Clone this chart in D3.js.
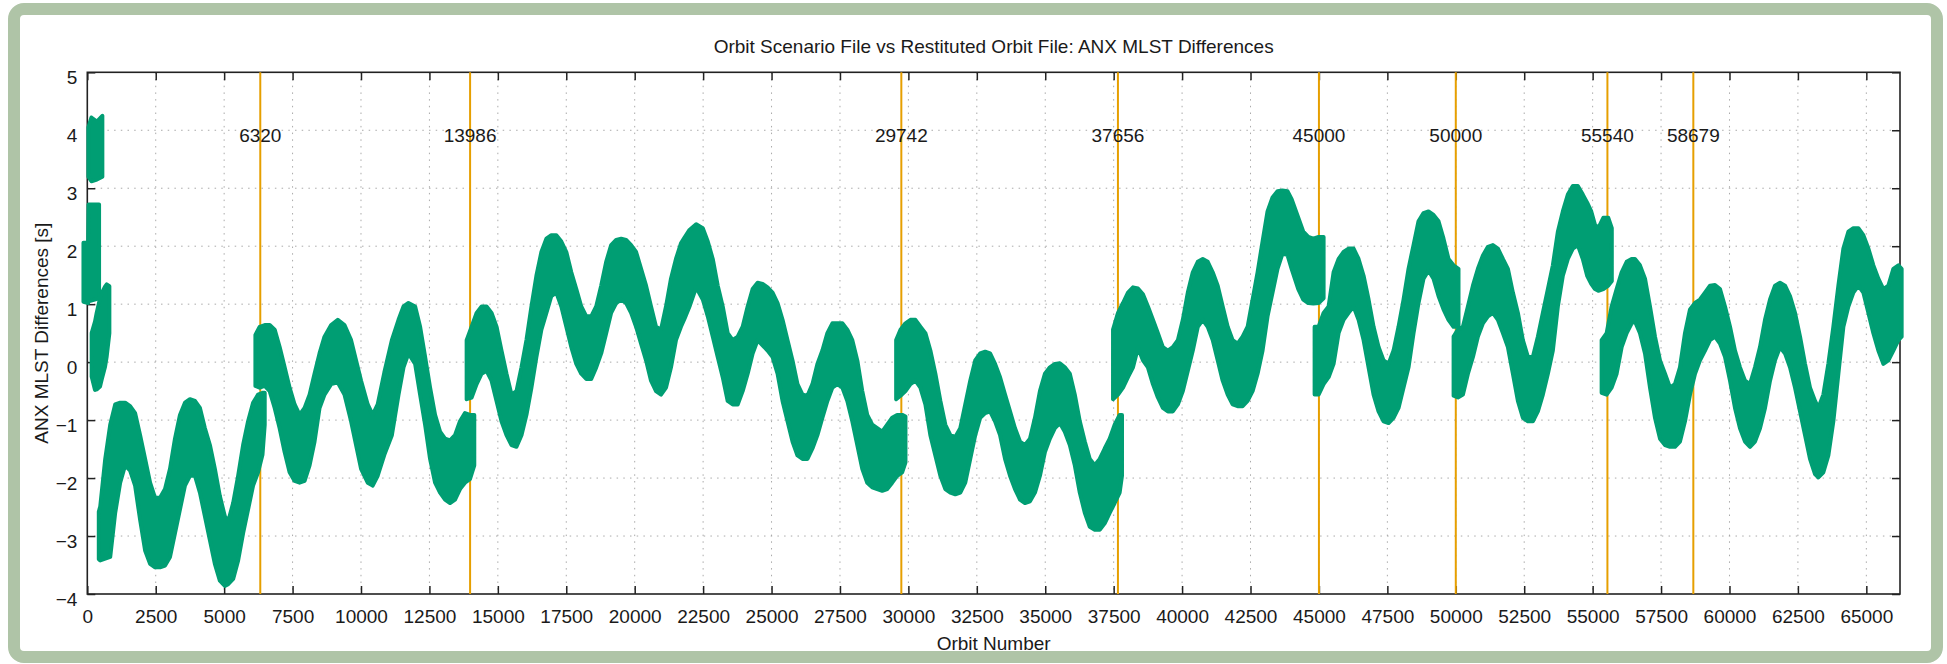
<!DOCTYPE html>
<html><head><meta charset="utf-8">
<script src="https://cdn.jsdelivr.net/npm/d3@7"></script>
<style>
html,body{margin:0;padding:0;background:#fff;}
svg{display:block;}
text{font-family:"Liberation Sans",Arial,Helvetica,sans-serif;fill:#1a1a1a;}
</style>
</head><body>
<svg id="chart" width="1947" height="664"></svg>
<script>
// ---------- data ----------
const chartTitle = "Orbit Scenario File vs Restituted Orbit File: ANX MLST Differences";
const xLabel = "Orbit Number";
const yLabel = "ANX MLST Differences [s]";
const xTicks = [0,2500,5000,7500,10000,12500,15000,17500,20000,22500,25000,27500,30000,32500,35000,37500,40000,42500,45000,47500,50000,52500,55000,57500,60000,62500,65000];
const yTicks = [-4,-3,-2,-1,0,1,2,3,4,5];
const xDomain = [0, 66230];
const yDomain = [-4, 5];
const markerOrbits = [6320,13986,29742,37656,45000,50000,55540,58679];
const markerLabelLevel = 4;

// Each segment: [orbit, lower edge of band, upper edge of band] (seconds)
const segA1 = [[40,3.20,4.05],[150,3.12,4.22],[350,3.15,4.15],[550,3.20,4.25]];
const segA2 = [[-140,1.04,2.06],[30,1.02,2.06],[45,1.05,2.72],[430,1.10,2.72]];
const segA3 = [[160,-0.25,0.50],[282,-0.48,0.70],[343,-0.47,0.85],[465,-0.42,1.10],[526,-0.30,1.19],[648,-0.08,1.30],[709,0.10,1.34],[806,0.50,1.31]];
const segB = [[420,-3.40,-2.58],[473,-3.42,-2.49],[655,-3.39,-1.67],[837,-3.36,-1.08],[1019,-2.60,-0.73],[1201,-2.08,-0.70],[1383,-1.78,-0.70],[1565,-1.87,-0.76],[1747,-2.13,-0.88],[1929,-2.72,-1.26],[2112,-3.25,-1.67],[2294,-3.48,-2.08],[2476,-3.54,-2.34],[2658,-3.54,-2.34],[2840,-3.51,-2.19],[3022,-3.36,-1.84],[3204,-2.95,-1.32],[3386,-2.54,-0.91],[3568,-2.13,-0.70],[3750,-1.96,-0.64],[3933,-1.96,-0.67],[4115,-2.25,-0.79],[4297,-2.66,-1.14],[4479,-3.07,-1.43],[4661,-3.48,-1.84],[4843,-3.77,-2.31],[5025,-3.86,-2.66],[5147,-3.83,-2.75],[5329,-3.74,-2.43],[5511,-3.42,-1.96],[5693,-2.95,-1.43],[5875,-2.54,-1.02],[6057,-2.13,-0.70],[6239,-1.90,-0.56],[6400,-1.60,-0.53],[6482,-1.08,-0.53]];
const segC = [[6142,-0.41,0.47],[6300,-0.44,0.61],[6482,-0.41,0.64],[6664,-0.50,0.64],[6846,-0.79,0.56],[7028,-1.14,0.26],[7210,-1.55,-0.09],[7392,-1.90,-0.44],[7575,-2.05,-0.73],[7757,-2.08,-0.91],[7939,-2.05,-0.79],[8121,-1.78,-0.56],[8303,-1.37,-0.20],[8485,-0.79,0.15],[8667,-0.56,0.44],[8910,-0.38,0.64],[9153,-0.35,0.73],[9396,-0.56,0.64],[9638,-1.02,0.38],[9820,-1.43,0.03],[10003,-1.84,-0.32],[10245,-2.08,-0.73],[10427,-2.13,-0.91],[10610,-1.96,-0.73],[10852,-1.60,-0.18],[11128,-1.26,0.38],[11371,-0.56,0.73],[11553,-0.09,0.96],[11735,0.15,1.02],[11978,-0.03,0.96],[12160,-0.56,0.61],[12342,-1.08,0.09],[12524,-1.67,-0.44],[12706,-2.08,-0.91],[12888,-2.25,-1.20],[13071,-2.37,-1.32],[13253,-2.43,-1.35],[13435,-2.37,-1.26],[13617,-2.19,-1.02],[13799,-2.08,-0.88],[13981,-2.02,-0.91],[14139,-1.78,-0.91]];
const segD = [[13860,-0.64,0.38],[14042,-0.61,0.61],[14224,-0.38,0.85],[14406,-0.20,0.96],[14588,-0.15,0.96],[14770,-0.32,0.85],[14952,-0.67,0.61],[15134,-1.02,0.20],[15316,-1.26,-0.20],[15499,-1.43,-0.56],[15681,-1.46,-0.50],[15863,-1.26,-0.09],[16045,-0.91,0.38],[16227,-0.44,0.96],[16409,0.09,1.49],[16591,0.56,1.90],[16773,0.85,2.13],[16955,1.14,2.19],[17137,1.20,2.19],[17320,0.96,2.08],[17502,0.61,1.90],[17684,0.26,1.55],[17866,-0.03,1.26],[18048,-0.20,0.96],[18230,-0.29,0.79],[18412,-0.29,0.79],[18594,-0.09,0.96],[18776,0.15,1.32],[18958,0.50,1.73],[19140,0.85,2.02],[19323,1.02,2.11],[19505,1.08,2.13],[19687,1.02,2.11],[19869,0.85,2.02],[20051,0.61,1.90],[20233,0.32,1.61],[20415,0.03,1.32],[20597,-0.32,0.96],[20779,-0.50,0.61],[20962,-0.56,0.56],[21144,-0.44,0.96],[21326,-0.09,1.44],[21508,0.38,1.78],[21690,0.61,2.05],[21820,0.75,2.15],[22002,0.96,2.28],[22245,1.29,2.38],[22488,1.08,2.31],[22670,0.79,2.08],[22852,0.44,1.78],[23034,0.09,1.32],[23216,-0.26,0.96],[23398,-0.67,0.50],[23580,-0.73,0.38],[23763,-0.73,0.44],[23945,-0.50,0.61],[24127,-0.20,0.96],[24309,0.15,1.26],[24491,0.38,1.37],[24673,0.29,1.35],[24855,0.20,1.29],[25037,0.09,1.20],[25220,-0.20,1.02],[25402,-0.67,0.73],[25584,-1.02,0.38],[25766,-1.37,0.03],[25948,-1.61,-0.38],[26130,-1.67,-0.56],[26312,-1.67,-0.58],[26494,-1.49,-0.38],[26676,-1.26,-0.03],[26858,-0.96,0.20],[27040,-0.67,0.50],[27223,-0.44,0.67],[27405,-0.38,0.67],[27587,-0.44,0.67],[27769,-0.67,0.56],[27951,-1.02,0.38],[28133,-1.43,0.03],[28315,-1.84,-0.50],[28497,-2.08,-0.91],[28679,-2.16,-1.08],[28861,-2.19,-1.14],[29043,-2.22,-1.20],[29226,-2.19,-1.08],[29408,-2.08,-0.96],[29590,-1.96,-0.91],[29772,-1.90,-0.91],[29893,-1.73,-0.94]];
const segE = [[29553,-0.64,0.38],[29711,-0.58,0.56],[29893,-0.50,0.67],[30075,-0.38,0.73],[30257,-0.32,0.73],[30439,-0.44,0.61],[30621,-0.73,0.50],[30803,-1.26,0.20],[30985,-1.61,-0.20],[31168,-1.96,-0.67],[31350,-2.19,-1.08],[31532,-2.25,-1.26],[31714,-2.28,-1.29],[31896,-2.25,-1.14],[32078,-2.08,-0.73],[32260,-1.67,-0.32],[32442,-1.26,0.03],[32624,-0.96,0.15],[32806,-0.88,0.18],[32985,-0.85,0.15],[33167,-1.02,-0.03],[33349,-1.26,-0.26],[33531,-1.67,-0.56],[33713,-1.96,-0.85],[33895,-2.19,-1.14],[34077,-2.37,-1.37],[34259,-2.43,-1.43],[34442,-2.40,-1.32],[34624,-2.25,-0.96],[34806,-1.96,-0.50],[34988,-1.55,-0.20],[35170,-1.32,-0.09],[35352,-1.14,-0.03],[35534,-1.05,-0.02],[35716,-1.20,-0.09],[35898,-1.43,-0.20],[36080,-1.78,-0.56],[36262,-2.25,-1.02],[36445,-2.60,-1.37],[36627,-2.84,-1.67],[36809,-2.89,-1.78],[36991,-2.89,-1.67],[37173,-2.78,-1.49],[37355,-2.60,-1.32],[37537,-2.43,-1.08],[37719,-2.25,-0.91],[37804,-1.96,-0.91]];
const segF = [[37477,-0.64,0.56],[37659,-0.56,0.85],[37841,-0.44,1.02],[38023,-0.26,1.20],[38206,-0.09,1.29],[38388,0.25,1.27],[38570,0.03,1.17],[38752,-0.09,0.96],[38934,-0.38,0.73],[39116,-0.61,0.50],[39298,-0.79,0.26],[39480,-0.85,0.20],[39662,-0.85,0.26],[39845,-0.73,0.38],[40027,-0.50,0.73],[40209,-0.15,1.20],[40391,0.20,1.55],[40573,0.61,1.73],[40755,0.73,1.78],[40937,0.61,1.73],[41119,0.38,1.55],[41301,0.03,1.32],[41483,-0.32,0.96],[41665,-0.56,0.61],[41847,-0.73,0.38],[42029,-0.76,0.32],[42212,-0.76,0.44],[42394,-0.67,0.61],[42576,-0.50,1.08],[42758,-0.20,1.55],[42940,0.20,2.08],[43122,0.79,2.60],[43304,1.20,2.84],[43486,1.61,2.95],[43668,1.87,2.96],[43850,1.85,2.95],[44002,1.61,2.81],[44245,1.26,2.49],[44428,1.08,2.25],[44610,1.02,2.16],[44795,1.01,2.13],[44988,1.02,2.16],[45170,1.10,2.16]];
const segG = [[44842,-0.56,0.61],[44988,-0.56,0.61],[45170,-0.38,0.85],[45353,-0.26,0.96],[45535,-0.03,1.55],[45718,0.50,1.78],[45900,0.73,1.90],[46083,0.85,1.96],[46266,0.96,1.96],[46448,0.73,1.78],[46631,0.38,1.49],[46813,-0.09,1.08],[46996,-0.56,0.61],[47178,-0.85,0.26],[47361,-1.02,0.03],[47543,-1.05,-0.03],[47726,-0.96,0.20],[47908,-0.79,0.61],[48091,-0.44,1.08],[48273,-0.09,1.61],[48456,0.50,2.02],[48638,1.02,2.43],[48821,1.44,2.57],[49003,1.58,2.60],[49186,1.44,2.54],[49369,1.14,2.43],[49551,0.91,2.13],[49734,0.73,1.78],[49916,0.61,1.67],[50099,0.61,1.61]];
const segH = [[49920,-0.58,0.44],[50078,-0.61,0.56],[50261,-0.56,0.61],[50443,-0.20,0.96],[50626,0.09,1.32],[50808,0.44,1.61],[50991,0.67,1.84],[51174,0.79,1.99],[51356,0.85,2.02],[51539,0.73,1.96],[51721,0.50,1.78],[51904,0.26,1.61],[52086,-0.20,1.20],[52269,-0.67,0.85],[52451,-0.96,0.38],[52634,-1.02,0.09],[52816,-1.02,0.09],[52999,-0.85,0.44],[53181,-0.56,0.85],[53364,-0.20,1.26],[53546,0.20,1.67],[53729,0.96,2.25],[53911,1.49,2.60],[54094,1.78,2.89],[54276,1.96,3.04],[54459,2.02,3.04],[54641,1.78,2.89],[54800,1.49,2.75],[54950,1.35,2.60],[55085,1.26,2.37],[55207,1.23,2.31],[55390,1.26,2.49],[55572,1.32,2.49],[55700,1.40,2.31]];
const segI = [[55329,-0.53,0.38],[55512,-0.56,0.50],[55694,-0.44,0.96],[55877,-0.20,1.26],[56060,0.26,1.55],[56243,0.50,1.73],[56425,0.67,1.78],[56547,0.70,1.78],[56730,0.50,1.67],[56913,0.15,1.44],[57096,-0.44,0.96],[57278,-0.96,0.44],[57461,-1.32,0.03],[57644,-1.43,-0.20],[57827,-1.46,-0.44],[58008,-1.46,-0.38],[58191,-1.37,-0.09],[58374,-1.02,0.50],[58557,-0.56,0.91],[58740,-0.20,1.02],[58922,0.03,1.08],[59105,0.20,1.20],[59288,0.38,1.32],[59470,0.44,1.33],[59653,0.32,1.26],[59836,0.09,0.96],[60019,-0.32,0.61],[60201,-0.79,0.20],[60384,-1.14,-0.09],[60567,-1.37,-0.32],[60750,-1.46,-0.38],[60932,-1.37,-0.09],[61115,-1.14,0.26],[61298,-0.79,0.73],[61481,-0.32,1.08],[61663,0.03,1.32],[61846,0.26,1.37],[62029,0.15,1.32],[62211,-0.09,1.14],[62394,-0.44,0.85],[62577,-0.85,0.44],[62760,-1.26,-0.03],[62942,-1.67,-0.44],[63125,-1.93,-0.67],[63247,-1.99,-0.79],[63430,-1.90,-0.56],[63612,-1.61,-0.03],[63795,-1.02,0.61],[63978,-0.20,1.32],[64161,0.61,1.96],[64343,0.96,2.25],[64526,1.20,2.31],[64709,1.32,2.31],[64891,1.20,2.19],[65074,0.85,1.96],[65257,0.50,1.67],[65439,0.20,1.44],[65622,-0.03,1.26],[65805,0.03,1.32],[65987,0.20,1.61],[66170,0.38,1.67],[66290,0.44,1.61]];
const segments = [segA1, segA2, segA3, segB, segC, segD, segE, segF, segG, segH, segI];

// ---------- layout ----------
const W = 1947, H = 664;
const plot = {left: 87.3, right: 1900, top: 72.3, bottom: 594};
const green = "#009e73", orange = "#e69f00";

const svg = d3.select("#chart");
// outer rounded frame
svg.append("rect").attr("x", 14).attr("y", 9).attr("width", 1923).attr("height", 648)
  .attr("rx", 10).attr("fill", "#fff").attr("stroke", "#afc4a7").attr("stroke-width", 12);

const x = d3.scaleLinear().domain(xDomain).range([plot.left, plot.right]);
const y = d3.scaleLinear().domain(yDomain).range([plot.bottom, plot.top]);

// grid
const grid = svg.append("g").attr("stroke", "#aaaaaa").attr("stroke-width", 1).attr("stroke-dasharray", "1.5,5.2");
grid.selectAll(".gx").data(xTicks.filter(t => t > xDomain[0])).join("line")
  .attr("x1", d => x(d)).attr("x2", d => x(d)).attr("y1", plot.top).attr("y2", plot.bottom);
grid.selectAll(".gy").data(yTicks.filter(t => t > yDomain[0] && t < yDomain[1])).join("line")
  .attr("x1", plot.left).attr("x2", plot.right).attr("y1", d => y(d)).attr("y2", d => y(d));

// axes (ticks inside, mirrored)
const fs = 19;
const axB = svg.append("g").attr("transform", `translate(0,${plot.bottom})`)
  .call(d3.axisBottom(x).tickValues(xTicks).tickFormat(d3.format("d")).tickSizeInner(-8).tickSizeOuter(0).tickPadding(0));
axB.selectAll("text").attr("y", 29).attr("dy", 0).style("font-size", fs + "px");
const axT = svg.append("g").attr("transform", `translate(0,${plot.top})`)
  .call(d3.axisTop(x).tickValues(xTicks).tickFormat("").tickSizeInner(-8).tickSizeOuter(0));
const axL = svg.append("g").attr("transform", `translate(${plot.left},0)`)
  .call(d3.axisLeft(y).tickValues(yTicks).tickFormat(d3.format("d")).tickSizeInner(-8).tickSizeOuter(0).tickPadding(0));
axL.selectAll("text").attr("x", -10).attr("dy", "0.58em").style("font-size", fs + "px");
const axR = svg.append("g").attr("transform", `translate(${plot.right},0)`)
  .call(d3.axisRight(y).tickValues(yTicks).tickFormat("").tickSizeInner(-8).tickSizeOuter(0));
[axB, axT, axL, axR].forEach(a => {
  a.select(".domain").remove();
  a.selectAll(".tick line").attr("stroke", "#222").attr("stroke-width", 1.5);
  a.selectAll("text").attr("fill", "#1a1a1a").attr("font-family", null);
});
// border
svg.append("rect").attr("x", plot.left).attr("y", plot.top)
  .attr("width", plot.right - plot.left).attr("height", plot.bottom - plot.top)
  .attr("fill", "none").attr("stroke", "#222").attr("stroke-width", 1.6);

// vertical marker lines
svg.append("g").selectAll("line").data(markerOrbits).join("line")
  .attr("x1", d => x(d)).attr("x2", d => x(d)).attr("y1", plot.top).attr("y2", plot.bottom)
  .attr("stroke", orange).attr("stroke-width", 2);

// data band
const area = d3.area().x(d => x(d[0])).y0(d => y(d[1])).y1(d => y(d[2])).curve(d3.curveLinear);
svg.append("g").selectAll("path").data(segments).join("path")
  .attr("d", area).attr("fill", green).attr("stroke", green)
  .attr("stroke-width", 4).attr("stroke-linejoin", "round");

// marker labels
svg.append("g").selectAll("text").data(markerOrbits).join("text")
  .attr("x", d => x(d)).attr("y", y(markerLabelLevel) + 11.5)
  .attr("text-anchor", "middle").style("font-size", fs + "px").text(d => d);

// titles
svg.append("text").attr("x", (plot.left + plot.right) / 2).attr("y", 53)
  .attr("text-anchor", "middle").style("font-size", "19px").text(chartTitle);
svg.append("text").attr("x", (plot.left + plot.right) / 2).attr("y", 650)
  .attr("text-anchor", "middle").style("font-size", "19px").text(xLabel);
svg.append("text").attr("transform", `translate(48,${(plot.top + plot.bottom) / 2}) rotate(-90)`)
  .attr("text-anchor", "middle").style("font-size", "19px").text(yLabel);
</script>
</body></html>
